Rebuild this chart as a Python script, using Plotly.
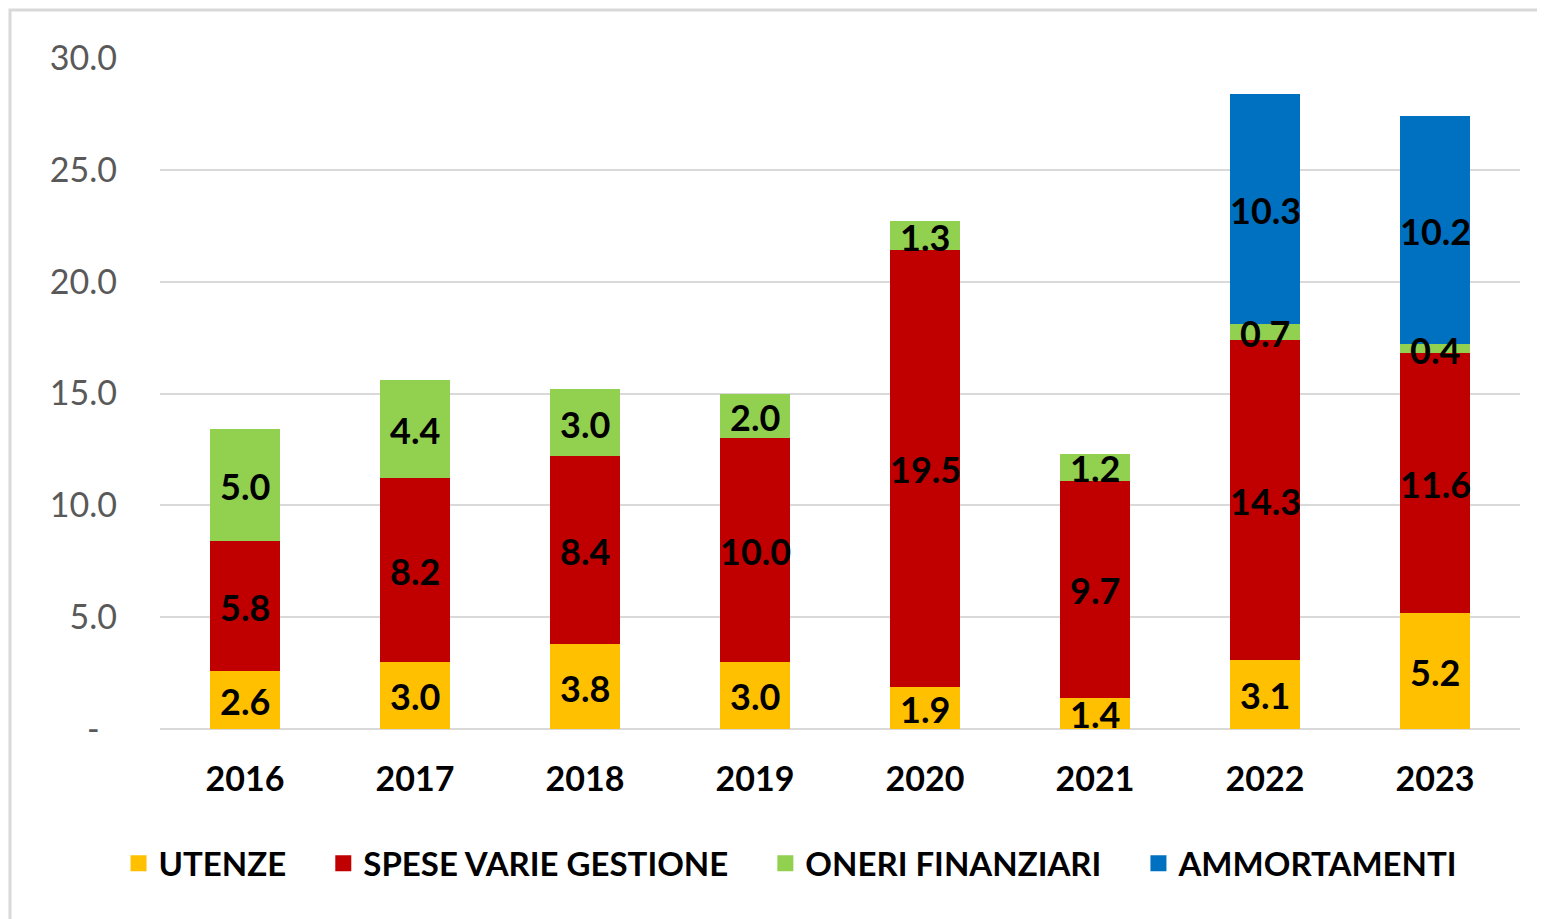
import plotly.graph_objects as go

years = ["2016", "2017", "2018", "2019", "2020", "2021", "2022", "2023"]
utenze = [2.6, 3.0, 3.8, 3.0, 1.9, 1.4, 3.1, 5.2]
spese = [5.8, 8.2, 8.4, 10.0, 19.5, 9.7, 14.3, 11.6]
oneri = [5.0, 4.4, 3.0, 2.0, 1.3, 1.2, 0.7, 0.4]
ammort = [None, None, None, None, None, None, 10.3, 10.2]

series = [
    ("UTENZE", utenze, "#FFC000"),
    ("SPESE VARIE GESTIONE", spese, "#C00000"),
    ("ONERI FINANZIARI", oneri, "#92D050"),
    ("AMMORTAMENTI", ammort, "#0070C0"),
]

y_ticks = [0, 5, 10, 15, 20, 25, 30]
y_ticktext = ["-\u00a0\u00a0", "5.0", "10.0", "15.0", "20.0", "25.0", "30.0"]

FONT = "Lato"
PAD = "\u00a0" * 4

fig = go.Figure()

# bars
base = [0.0] * len(years)
annotations = []
for name, vals, color in series:
    fig.add_trace(go.Bar(
        x=years, y=vals, name=name, showlegend=False,
        marker=dict(color=color, line=dict(width=0)),
        hoverinfo="x+y+name",
    ))
    for i, v in enumerate(vals):
        if v is not None:
            annotations.append(dict(
                x=i, y=base[i] + v / 2, xref="x", yref="y",
                text=f"{v:.1f}", showarrow=False, yshift=-1,
                font=dict(family=FONT, size=36, color="black", weight="bold"),
            ))
            base[i] += v

# legend entries with square symbols
for k, (name, vals, color) in enumerate(series):
    fig.add_trace(go.Scatter(
        x=[years[0]], y=[None], mode="markers",
        name=name + (PAD if k < len(series) - 1 else ""),
        marker=dict(symbol="square", size=20, color=color),
        hoverinfo="skip",
    ))

fig.update_layout(
    barmode="stack",
    bargap=0.59,
    width=1545, height=919,
    margin=dict(l=152, r=33, t=50, b=198),
    paper_bgcolor="white",
    plot_bgcolor="white",
    font=dict(family=FONT),
    annotations=annotations,
    legend=dict(
        orientation="h", x=0.464, xanchor="center",
        y=-0.2, yanchor="middle",
        font=dict(family=FONT, size=33, color="black", weight="bold"),
        traceorder="normal", itemwidth=30,
    ),
    shapes=[dict(
        type="rect", xref="paper", yref="paper",
        x0=-0.1103, x1=1.05, y0=-0.35, y1=1.0715,
        line=dict(color="#d9d9d9", width=3), fillcolor="rgba(0,0,0,0)", layer="below",
    )],
)

fig.update_xaxes(
    type="category", categoryorder="array", categoryarray=years,
    range=[-0.5, len(years) - 0.5], autorange=False,
    showgrid=False, showline=False, ticks="",
    tickfont=dict(family=FONT, size=34, color="black", weight="bold"),
    ticklabelstandoff=27,
)
fig.update_yaxes(
    range=[0, 30], autorange=False,
    tickvals=y_ticks, ticktext=y_ticktext,
    showgrid=True, gridcolor="#d9d9d9", gridwidth=2,
    zeroline=True, zerolinecolor="#d9d9d9", zerolinewidth=2,
    showline=False, ticks="",
    tickfont=dict(family=FONT, size=34, color="#595959"),
    ticklabelstandoff=42,
)

fig.write_html("out.html")
